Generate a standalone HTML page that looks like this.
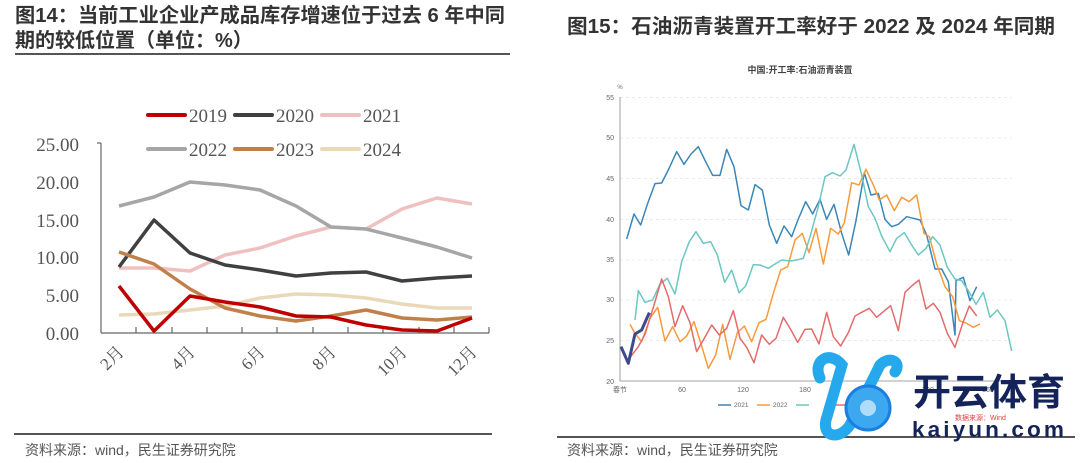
<!DOCTYPE html>
<html><head><meta charset="utf-8"><style>
html,body{margin:0;padding:0;background:#fff;width:1080px;height:463px;overflow:hidden}
text{font-family:"Liberation Sans","Noto Sans CJK SC",sans-serif}
.s{font-family:"Liberation Serif","Noto Serif CJK SC",serif}
</style></head><body>
<svg width="1080" height="463" viewBox="0 0 1080 463" xmlns="http://www.w3.org/2000/svg">
<text x="15" y="22" font-size="20" font-weight="bold" fill="#333" textLength="490" lengthAdjust="spacingAndGlyphs">图14：当前工业企业产成品库存增速位于过去 6 年中同</text>
<text x="15" y="47" font-size="20" font-weight="bold" fill="#333">期的较低位置（单位：%）</text>
<line x1="15" y1="54" x2="510" y2="54" stroke="#555" stroke-width="2"/>
<text x="567" y="33" font-size="20" font-weight="bold" fill="#333" textLength="488" lengthAdjust="spacingAndGlyphs">图15：石油沥青装置开工率好于 2022 及 2024 年同期</text>
<line x1="14" y1="434" x2="492" y2="434" stroke="#555" stroke-width="2"/>
<line x1="557" y1="437" x2="1075" y2="437" stroke="#555" stroke-width="2"/>
<text x="25" y="455" font-size="14" fill="#555">资料来源：wind，民生证券研究院</text>
<text x="567" y="455" font-size="14" fill="#555">资料来源：wind，民生证券研究院</text>

<g class="s" font-size="19" fill="#555" text-anchor="end">
<text class="s" x="79" y="151">25.00</text>
<text class="s" x="79" y="189">20.00</text>
<text class="s" x="79" y="227">15.00</text>
<text class="s" x="79" y="264">10.00</text>
<text class="s" x="79" y="302">5.00</text>
<text class="s" x="79" y="340">0.00</text>
</g>
<g stroke="#666" stroke-width="1.2">
<line x1="101" y1="143" x2="101" y2="333"/>
<line x1="101" y1="333" x2="489" y2="333"/>
<line x1="97" y1="143" x2="101" y2="143"/>
<line x1="136" y1="333" x2="136" y2="327"/><line x1="172" y1="333" x2="172" y2="327"/>
<line x1="207" y1="333" x2="207" y2="327"/><line x1="242" y1="333" x2="242" y2="327"/>
<line x1="277" y1="333" x2="277" y2="327"/><line x1="313" y1="333" x2="313" y2="327"/>
<line x1="348" y1="333" x2="348" y2="327"/><line x1="383" y1="333" x2="383" y2="327"/>
<line x1="419" y1="333" x2="419" y2="327"/><line x1="454" y1="333" x2="454" y2="327"/>
<line x1="489" y1="333" x2="489" y2="327"/>
</g>
<g font-size="17" fill="#555" text-anchor="end">
<text class="s" transform="translate(125,353) rotate(-45)">2月</text>
<text class="s" transform="translate(196,353) rotate(-45)">4月</text>
<text class="s" transform="translate(266,353) rotate(-45)">6月</text>
<text class="s" transform="translate(337,353) rotate(-45)">8月</text>
<text class="s" transform="translate(408,353) rotate(-45)">10月</text>
<text class="s" transform="translate(478,353) rotate(-45)">12月</text>
</g>
<g stroke-width="4" stroke-linecap="round">
<line x1="148" y1="115" x2="185" y2="115" stroke="#c00000"/>
<line x1="235" y1="115" x2="272" y2="115" stroke="#404040"/>
<line x1="322" y1="115" x2="359" y2="115" stroke="#f0c0c0"/>
<line x1="148" y1="149" x2="185" y2="149" stroke="#a6a6a6"/>
<line x1="235" y1="149" x2="272" y2="149" stroke="#c0804a"/>
<line x1="322" y1="149" x2="359" y2="149" stroke="#ead9b8"/>
</g>
<g font-size="19" fill="#555">
<text class="s" x="189" y="122">2019</text><text class="s" x="276" y="122">2020</text><text class="s" x="363" y="122">2021</text>
<text class="s" x="189" y="156">2022</text><text class="s" x="276" y="156">2023</text><text class="s" x="363" y="156">2024</text>
</g>
<g fill="none" stroke-width="3.5" stroke-linejoin="round">
<polyline stroke="#ead9b8" points="119,315 154,314 190,310 225,306 260,298 296,294 331,295 366,298 402,304 437,308 472,308"/>
<polyline stroke="#f0c0c0" points="119,268 154,268 190,271 225,255 260,248 296,236 331,227 366,229 402,209 437,198 472,204"/>
<polyline stroke="#a6a6a6" points="119,206 154,197 190,182 225,185 260,190 296,206 331,227 366,229 402,238 437,247 472,258"/>
<polyline stroke="#404040" points="119,267 154,220 190,253 225,265 260,270 296,276 331,273 366,272 402,281 437,278 472,276"/>
<polyline stroke="#c0804a" points="119,252 154,264 190,289 225,308 260,316 296,321 331,316 366,310 402,318 437,320 472,317"/>
<polyline stroke="#c00000" points="119,286 154,331 190,296 225,302 260,307 296,316 331,317 366,325 402,330 437,331 472,318"/>
</g>

<text x="800" y="73" font-size="9" font-weight="bold" fill="#444" text-anchor="middle">中国:开工率:石油沥青装置</text>
<text x="620" y="89" font-size="6" fill="#666" text-anchor="middle">%</text>
<g stroke="#ddd" stroke-width="0.6" stroke-dasharray="3,3">
<line x1="620" y1="97.7" x2="1012" y2="97.7"/><line x1="620" y1="138" x2="1012" y2="138"/>
<line x1="620" y1="178.7" x2="1012" y2="178.7"/><line x1="620" y1="219.3" x2="1012" y2="219.3"/>
<line x1="620" y1="260" x2="1012" y2="260"/><line x1="620" y1="300" x2="1012" y2="300"/>
<line x1="620" y1="340.7" x2="1012" y2="340.7"/>
</g>
<line x1="620" y1="97" x2="620" y2="381" stroke="#888" stroke-width="0.8"/>
<line x1="620" y1="381" x2="1012" y2="381" stroke="#888" stroke-width="0.8"/>
<g font-size="7" fill="#666" text-anchor="end">
<text x="614" y="100">55</text><text x="614" y="140">50</text><text x="614" y="181">45</text>
<text x="614" y="222">40</text><text x="614" y="262">35</text><text x="614" y="302">30</text>
<text x="614" y="343">25</text><text x="614" y="384">20</text>
</g>
<g font-size="7" fill="#666" text-anchor="middle">
<text x="620" y="392">春节</text><text x="682" y="392">60</text><text x="743" y="392">120</text>
<text x="805" y="392">180</text><text x="866" y="392">240</text><text x="928" y="392">300</text><text x="988" y="392">360</text>
</g>
<g transform="translate(560,60) scale(0.33333)" fill="none" stroke-width="4.5" stroke-linejoin="round">
<polyline stroke="#3a86b8" points="200,537 222,462 242,495 263,430 285,371 305,369 325,330 350,275 372,313 393,282 415,260 437,305 458,346 480,346 500,268 522,320 543,437 565,450 585,374 607,390 628,495 650,550 672,498 695,530 715,477 737,425 758,462 780,418 800,478 822,433 845,520 866,585 888,482 913,338 933,405 955,400 975,478 995,500 1015,493 1040,470 1060,475 1080,480 1100,525 1125,627 1145,627 1165,665 1185,825 1188,662 1210,652 1230,722 1250,680"/>
<polyline stroke="#f89a3a" points="210,793 225,820 245,845 270,775 293,742 315,843 338,800 360,845 380,828 402,785 425,858 445,925 467,885 488,793 510,898 532,818 553,798 575,845 597,788 618,778 640,700 662,630 683,620 705,540 727,520 747,578 768,505 790,612 812,505 835,522 853,488 875,368 897,375 918,328 940,375 958,420 980,405 1003,452 1025,412 1047,425 1070,405 1092,520 1108,530 1130,612 1155,680 1178,710 1198,782 1220,790 1240,802 1260,792"/>
<polyline stroke="#6cc7c3" points="225,780 235,692 255,727 278,720 300,672 322,655 345,702 365,605 388,545 408,515 430,550 452,545 472,585 494,667 515,630 537,698 557,678 580,614 600,615 625,625 645,612 665,600 690,603 710,600 730,595 750,530 775,440 795,350 818,338 840,348 858,330 882,253 905,345 925,440 945,475 965,528 990,575 1010,535 1033,518 1055,555 1075,585 1098,565 1118,530 1140,555 1162,622 1185,657 1205,662 1225,692 1248,733 1270,697 1290,772 1312,750 1335,782 1355,873"/>
<polyline stroke="#e46b6b" points="212,890 235,860 255,823 280,742 305,657 325,710 345,800 368,737 390,788 410,875 430,840 455,795 478,825 500,805 520,752 540,835 560,862 582,908 605,825 628,853 648,835 670,772 693,810 713,847 735,808 755,807 777,852 800,757 820,830 842,858 865,818 885,768 905,757 928,745 950,772 970,755 992,737 1015,812 1035,697 1055,678 1077,660 1098,747 1120,730 1140,757 1162,820 1185,862 1208,790 1228,738 1250,768"/>
<polyline stroke="#3e4a8a" stroke-width="9" points="183,860 205,910 225,822 245,810 268,758"/>
</g>
<g stroke-width="1.5">
<line x1="718" y1="405" x2="731" y2="405" stroke="#3a86b8"/>
<line x1="757" y1="405" x2="770" y2="405" stroke="#f89a3a"/>
<line x1="796" y1="405" x2="809" y2="405" stroke="#6cc7c3"/>
<line x1="835" y1="405" x2="848" y2="405" stroke="#e46b6b"/>
</g>
<g font-size="6.5" fill="#666"><text x="734" y="407">2021</text><text x="773" y="407">2022</text><text x="872" y="407">2025</text></g>

<path d="M820,378 C812,360 830,350 842,365 L826,420 C822,438 840,440 850,425 L880,365 C890,355 902,362 895,372" fill="none" stroke="#25a8ec" stroke-width="11" stroke-linecap="round"/>
<circle cx="868" cy="408" r="22" fill="#3ca8f0" stroke="#1a7fe0" stroke-width="3"/>
<circle cx="868" cy="408" r="8" fill="#fff" opacity="0.6"/>
<text x="913" y="405" font-size="37" font-weight="bold" fill="#14245a" font-family="'Noto Sans CJK SC',sans-serif" textLength="152" lengthAdjust="spacingAndGlyphs">开云体育</text>
<text x="955" y="420" font-size="7" fill="#e04040">数据来源：Wind</text>
<text x="912" y="437" font-size="22" font-weight="bold" fill="#14245a" letter-spacing="3" textLength="155" lengthAdjust="spacingAndGlyphs">kaiyun.com</text>
</svg>
</body></html>
